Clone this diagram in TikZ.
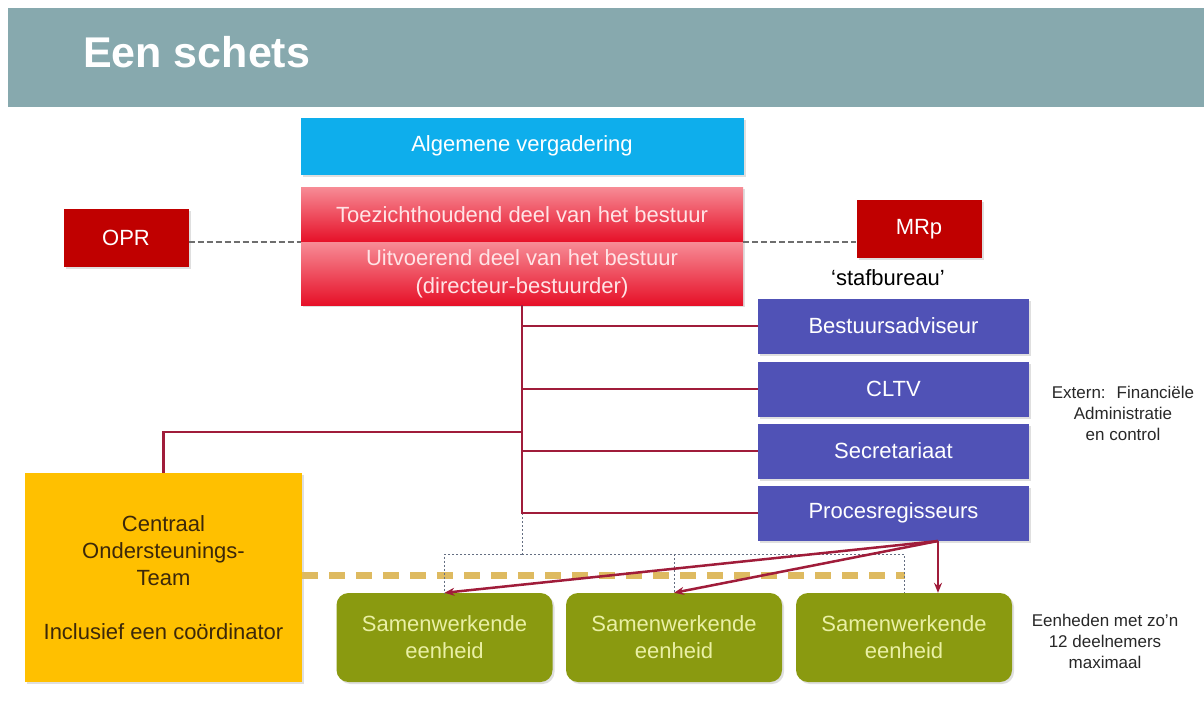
\documentclass[tikz,border=0pt]{standalone}
\usepackage{fontspec}
\setmainfont{Liberation Sans}
\usetikzlibrary{arrows.meta,shadows}

\definecolor{kop}{RGB}{135,169,174}
\definecolor{avblauw}{RGB}{14,174,236}
\definecolor{bestuurlicht}{RGB}{247,140,150}
\definecolor{bestuurrood}{RGB}{230,16,40}
\definecolor{bestuurtekst}{RGB}{255,228,230}
\definecolor{donkerrood}{RGB}{192,0,0}
\definecolor{staf}{RGB}{80,82,182}
\definecolor{cotgeel}{RGB}{255,192,0}
\definecolor{cottekst}{RGB}{60,40,10}
\definecolor{eenheid}{RGB}{138,154,16}
\definecolor{eenheidtekst}{RGB}{234,240,165}
\definecolor{lijnrood}{RGB}{160,28,58}
\definecolor{goud}{RGB}{222,186,96}
\definecolor{streepgrijs}{RGB}{110,110,110}
\definecolor{stippelgrijs}{RGB}{100,110,130}
\definecolor{notitiegrijs}{RGB}{40,40,40}

\tikzset{
  tekst/.style={font=\fontsize{22}{27}\selectfont, align=center, inner sep=0pt},
  blok/.style={tekst, drop shadow={shadow xshift=2pt, shadow yshift=-2pt, opacity=.25}},
  bestuurblok/.style={blok, minimum width=442pt, top color=bestuurlicht, bottom color=bestuurrood, text=bestuurtekst},
  raadblok/.style={blok, fill=donkerrood, text=white, minimum width=125pt, minimum height=58pt},
  stafblok/.style={blok, fill=staf, text=white, minimum width=271pt, minimum height=55pt},
  eenheidblok/.style={blok, fill=eenheid, text=eenheidtekst, rounded corners=12pt, minimum width=216pt, minimum height=89pt},
  notitie/.style={font=\fontsize{17}{21}\selectfont, align=center, text=notitiegrijs, inner sep=0pt},
  lijn/.style={draw=lijnrood, line width=2.5pt},
  pijl/.style={lijn, -{Stealth[length=10pt,width=8pt]}},
  stippel/.style={draw=stippelgrijs, line width=0.8pt, dash pattern=on 2pt off 2pt},
  streep/.style={draw=streepgrijs, line width=2.5pt, dash pattern=on 6pt off 3pt},
  goudstreep/.style={draw=goud, line width=7pt, dash pattern=on 16pt off 11pt}
}

\begin{document}
\begin{tikzpicture}[x=1pt,y=-1pt]
      \useasboundingbox (0,0) rectangle (1204,702);
      \fill[white] (0,0) rectangle (1204,702);
      \fill[kop] (8,8) rectangle (1204,107);
      \node[anchor=base west, inner sep=0pt, text=white, font=\fontsize{43}{50}\selectfont\bfseries]
        (titel) at (83,67) {Een schets};

      % bestuur
      \node[blok, fill=avblauw, text=white, minimum width=443pt, minimum height=57pt]
        (av) at (522,146) {Algemene vergadering};
      \node[bestuurblok, minimum height=55pt] (toe) at (522,214.5) {Toezichthoudend deel van het bestuur};
      \node[bestuurblok, minimum height=63pt, font=\fontsize{22}{28}\selectfont]
        (uit) at (522,273.5) {Uitvoerend deel van het bestuur\\(directeur-bestuurder)};
      \node[raadblok] (opr) at (126,238) {OPR};
      \node[raadblok] (mrp) at (919,229) {MRp};

      % stafbureau
      \node[tekst, text=black] (stafkop) at (888,278) {‘stafbureau’};
      \node[stafblok] (adviseur) at (893.5,326) {Bestuursadviseur};
      \node[stafblok] (cltv) at (893.5,389) {CLTV};
      \node[stafblok] (secretariaat) at (893.5,451) {Secretariaat};
      \node[stafblok] (proces) at (893.5,513) {Procesregisseurs};
      \node[notitie] (extern) at (1123,413) {Extern:~ Financiële\\Administratie\\en control};

      % ondersteuning en eenheden
      \node[blok, fill=cotgeel, text=cottekst, minimum width=277pt, minimum height=209pt]
        (cot) at (163.5,577.5) {Centraal\\Ondersteunings-\\Team\\[27pt]Inclusief een coördinator};
      \node[eenheidblok] (e1) at (444.5,637.5) {Samenwerkende\\eenheid};
      \node[eenheidblok] (e2) at (674,637.5) {Samenwerkende\\eenheid};
      \node[eenheidblok] (e3) at (904,637.5) {Samenwerkende\\eenheid};
      \node[notitie] (omvang) at (1105,641) {Eenheden met zo'n\\12 deelnemers\\maximaal};

      \coordinate (cotaftak) at (522,432);
      \coordinate (splits) at (522,554);
      \coordinate (streepeind) at (905,575);
      \coordinate (pijlbron) at (938,541);

      \begin{scope}
        \draw[streep] (opr.east |- uit.north west) -- (uit.north west);
        \draw[streep] (uit.north east) -- (mrp.west |- uit.north east);
        \draw[goudstreep] (cot.east |- streepeind) -- (streepeind);
        \draw[stippel] (uit.south |- proces.west) -- (splits);
        \draw[stippel] (splits) -| (e1.north);
        \draw[stippel] (splits) -| (e2.north);
        \draw[stippel] (splits) -| (e3.north);
        \draw[lijn] (uit.south) |- (proces.west);
        \draw[lijn] (uit.south |- adviseur.west) -- (adviseur.west);
        \draw[lijn] (uit.south |- cltv.west) -- (cltv.west);
        \draw[lijn] (uit.south |- secretariaat.west) -- (secretariaat.west);
        \draw[lijn] (cotaftak) -| (cot.north);
        \draw[pijl] (pijlbron) -- (e1.north);
        \draw[pijl] (pijlbron) -- (e2.north);
        \draw[pijl] (pijlbron) -- (e3.north -| pijlbron);
      \end{scope}
    \end{tikzpicture}
\end{document}
